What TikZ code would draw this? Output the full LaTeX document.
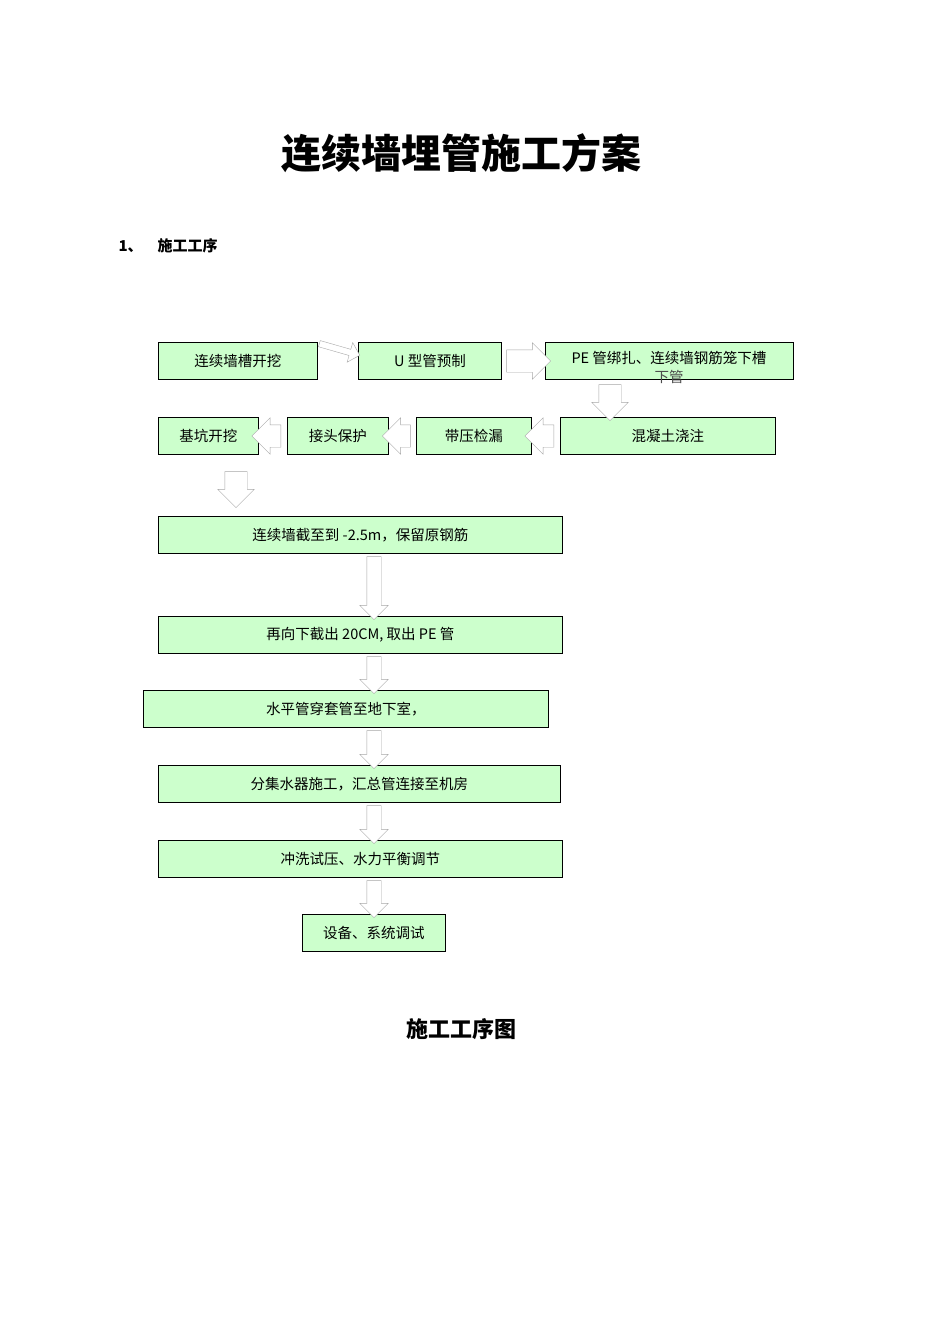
\documentclass[tikz,border=0pt]{standalone}
\usepackage{fontspec}
\setmainfont{Liberation Serif}
\newfontfamily\cjk{Noto Sans CJK SC}
\usetikzlibrary{shapes.arrows}
\tikzset{
  step box/.style={
    draw,
    thick,
    fill=green!20,
    font=\cjk\fontsize{14.5}{16}\selectfont,
    inner sep=0pt,
  },
  barrow/.style={
    single arrow,
    draw=black!35,
    fill=white,
    inner xsep=0pt,
    inner ysep=#1,
    minimum width=0pt,
    single arrow head extend=7pt,
    single arrow head indent=0pt,
  },
}
\newcommand{\stepbox}[6]{%
  \node[step box, minimum width=#4-#2, minimum height=#5-#3, anchor=north west]
    (#1) at (#2,#3) {#6};}
\begin{document}
\begin{tikzpicture}[x=1pt, y=-1pt]
  \useasboundingbox (0,0) rectangle (950,1344);
  \node[font=\cjk\bfseries\fontsize{40}{46}\selectfont] (title) at (461,153) {连续墙埋管施工方案};
  \node[font=\cjk\bfseries\fontsize{15}{18}\selectfont, anchor=west] (sec) at (115,246) {1、\quad 施工工序};

  \stepbox{s1}{158}{342}{317}{379}{连续墙槽开挖}
  \stepbox{s2}{358}{342}{501}{379}{U 型管预制}
  \stepbox{s3}{545}{342}{793}{379}{}
  \node[font=\cjk\fontsize{14.5}{16}\selectfont] (s3t) at (669,358) {PE 管绑扎、连续墙钢筋笼下槽};
  \node[font=\cjk\fontsize{14.5}{16}\selectfont, text=black!70] (s3u) at (669,377) {下管};
  \stepbox{s4}{560}{417}{775}{454}{混凝土浇注}
  \stepbox{s5}{416}{417}{531}{454}{带压检漏}
  \stepbox{s6}{287}{417}{388}{454}{接头保护}
  \stepbox{s7}{158}{417}{258}{454}{基坑开挖}
  \stepbox{s8}{158}{516}{562}{553}{连续墙截至到 -2.5m，保留原钢筋}
  \stepbox{s9}{158}{616}{562}{653}{再向下截出 20CM, 取出 PE 管}
  \stepbox{s10}{143}{690}{548}{727}{水平管穿套管至地下室，}
  \stepbox{s11}{158}{765}{560}{802}{分集水器施工，汇总管连接至机房}
  \stepbox{s12}{158}{840}{562}{877}{冲洗试压、水力平衡调节}
  \stepbox{s13}{302}{914}{445}{951}{设备、系统调试}

  % hollow block arrows
  \node[barrow=3pt, minimum height=42pt, rotate=-16] (a12) at (338,349) {};
  \node[barrow=11pt, minimum height=44pt] (a23) at (523,361) {};
  \node[barrow=11pt, minimum height=36pt, rotate=-90] (a34) at (610,397) {};
  \node[barrow=11pt, minimum height=29pt, rotate=180] (a45) at (545,436) {};
  \node[barrow=11pt, minimum height=28pt, rotate=180] (a56) at (402,436) {};
  \node[barrow=11pt, minimum height=29pt, rotate=180] (a67) at (272,436) {};
  \node[barrow=11pt, minimum height=36pt, rotate=-90] (a78) at (236,484) {};
  \foreach \a/\b/\c in {a89/553/616, a910/653/690, a1011/727/765, a1112/802/840, a1213/877/914} {
    \node[barrow=7pt, minimum height=\c-\b, rotate=-90] (\a) at (374,{(\b+\c)/2}) {};
  }

  \node[font=\cjk\bfseries\fontsize{22}{26}\selectfont] (cap) at (461,1029) {施工工序图};
\end{tikzpicture}
\end{document}
